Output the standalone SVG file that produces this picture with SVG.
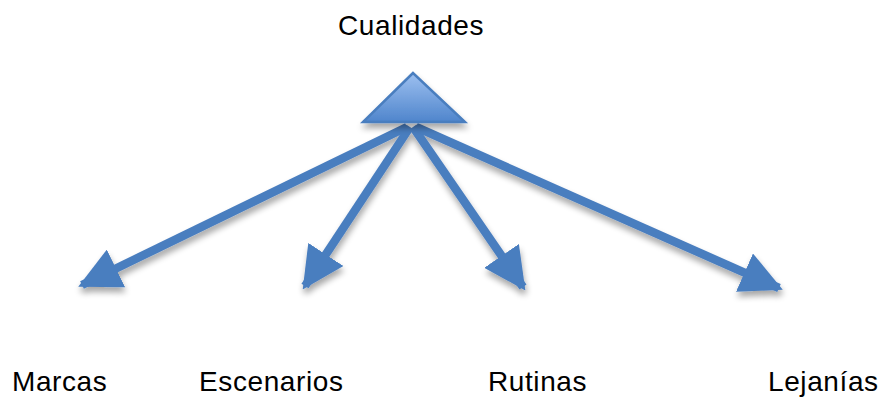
<svg xmlns="http://www.w3.org/2000/svg" width="882" height="397" viewBox="0 0 882 397">
  <defs>
    <style>
      .lbl { font-family: "Liberation Sans", Arial, sans-serif; font-size: 28px; fill: #000; letter-spacing: 0.6px; }
      .conn { stroke: #4a7ebf; stroke-width: 8.5; fill: none; }
      .head { fill: #4a7ebf; }
    </style>
    <linearGradient id="triGrad" x1="0" y1="0" x2="0" y2="1">
      <stop offset="0" stop-color="#9dc0f0"/>
      <stop offset="1" stop-color="#4f85cc"/>
    </linearGradient>
    <filter id="shadow" x="-20%" y="-20%" width="140%" height="160%">
      <feGaussianBlur in="SourceAlpha" stdDeviation="3"/>
      <feOffset dx="1" dy="5" result="b"/>
      <feComponentTransfer><feFuncA type="linear" slope="0.35"/></feComponentTransfer>
      <feMerge><feMergeNode/><feMergeNode in="SourceGraphic"/></feMerge>
    </filter>
    <marker id="arrow" markerUnits="userSpaceOnUse" markerWidth="42" markerHeight="42" viewBox="0 0 40 40" refX="36" refY="20" orient="auto">
      <path class="head" d="M0,0 L40,20 L0,40 Z"/>
    </marker>
  </defs>

  <g id="connectors" filter="url(#shadow)">
    <line class="conn" x1="407" y1="127" x2="82" y2="285" marker-end="url(#arrow)"/>
    <line class="conn" x1="410" y1="127" x2="305" y2="286" marker-end="url(#arrow)"/>
    <line class="conn" x1="413" y1="127" x2="523" y2="287" marker-end="url(#arrow)"/>
    <line class="conn" x1="416" y1="127" x2="779" y2="288" marker-end="url(#arrow)"/>
  </g>

  <g id="cualidades">
    <polygon points="413,73 363,122 465,122" fill="url(#triGrad)" stroke="#4a7ebf" stroke-width="2.5" stroke-linejoin="miter" filter="url(#shadow)"/>
    <text class="lbl" x="338" y="35">Cualidades</text>
  </g>
  <g id="marcas"><text class="lbl" x="12" y="391">Marcas</text></g>
  <g id="escenarios"><text class="lbl" x="199" y="391">Escenarios</text></g>
  <g id="rutinas"><text class="lbl" x="488" y="391">Rutinas</text></g>
  <g id="lejanias"><text class="lbl" x="768" y="391">Lejanías</text></g>
</svg>
